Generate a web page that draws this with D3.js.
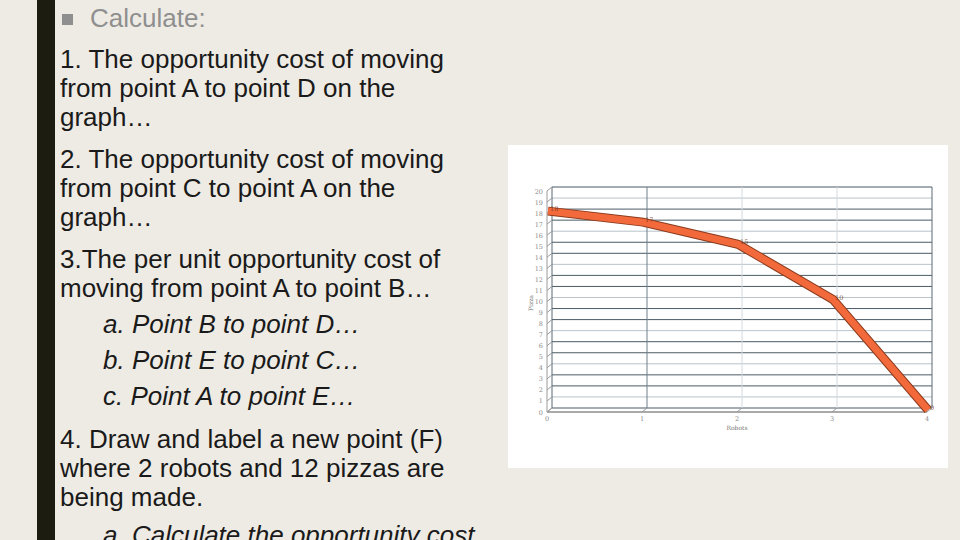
<!DOCTYPE html>
<html>
<head>
<meta charset="utf-8">
<script src="https://cdn.jsdelivr.net/npm/d3@7"></script>
<style>
  html, body { margin: 0; padding: 0; background: #eeebe4; }
  svg { display: block; }
</style>
</head>
<body>
<div id="slide"></div>
<script>
// chart values
const robots = [0, 1, 2, 3, 4];
const pizzas = [18, 17, 15, 10, 0];
const yTicks = d3.range(0, 21);
const xTicks = [0, 1, 2, 3, 4];
const xTitle = 'Robots';
const yTitle = 'Pizza';

// slide text
const heading = 'Calculate:';
const lines = [
  {t: '1. The opportunity cost of moving', y: 68},
  {t: 'from point A to point D on the', y: 97},
  {t: 'graph…', y: 126},
  {t: '2. The opportunity cost of moving', y: 168},
  {t: 'from point C to point A on the', y: 197},
  {t: 'graph…', y: 226},
  {t: '3.The per unit opportunity cost of', y: 268},
  {t: 'moving from point A to point B…', y: 297},
  {t: 'a. Point B to point D…', y: 333, it: true},
  {t: 'b. Point E to point C…', y: 369, it: true},
  {t: 'c. Point A to point E…', y: 405, it: true},
  {t: '4. Draw and label a new point (F)', y: 448},
  {t: 'where 2 robots and 12 pizzas are', y: 477},
  {t: 'being made.', y: 506},
  {t: 'a. Calculate the opportunity cost', y: 544, it: true}
];

const width = 960;
const height = 540;

const svg = d3.select('#slide')
  .append('svg')
  .attr('width', width)
  .attr('height', height);

svg.append('rect')
  .attr('width', width).attr('height', height)
  .attr('fill', '#eeebe4');

// dark bar on the left
svg.append('rect')
  .attr('x', 37).attr('y', 0)
  .attr('width', 18).attr('height', height)
  .attr('fill', '#1c1c10');

// bullet + heading
svg.append('rect')
  .attr('x', 62).attr('y', 14)
  .attr('width', 11).attr('height', 11)
  .attr('fill', '#8f8f8f');
svg.append('text')
  .attr('x', 90).attr('y', 27)
  .attr('font-family', 'Liberation Sans, Arial, sans-serif')
  .attr('font-size', 26)
  .attr('fill', '#8f8f8f')
  .text(heading);

svg.append('g')
  .attr('font-family', 'Liberation Sans, Arial, sans-serif')
  .attr('font-size', 26)
  .attr('fill', '#1a1a1a')
  .selectAll('text')
  .data(lines)
  .join('text')
    .attr('x', d => d.it ? 103 : 60)
    .attr('y', d => d.y)
    .attr('font-style', d => d.it ? 'italic' : 'normal')
    .text(d => d.t);

// chart panel
svg.append('rect')
  .attr('x', 508).attr('y', 145)
  .attr('width', 440).attr('height', 323)
  .attr('fill', '#ffffff');

// back wall scales, front plane is shifted by depth
const x = d3.scaleLinear().domain([0, 4]).range([552, 932]);
const y = d3.scaleLinear().domain([0, 20]).range([408, 187]);
const dx = -5, dy = 4;

const chart = svg.append('g');

// horizontal gridlines
chart.append('g')
  .selectAll('line')
  .data(yTicks)
  .join('line')
    .attr('x1', x(0)).attr('x2', x(4))
    .attr('y1', d => y(d)).attr('y2', d => y(d))
    .attr('stroke', d => d % 3 === 1 ? '#b9c3ca' : '#4b5b66')
    .attr('stroke-width', 1);

// vertical gridlines
chart.append('g')
  .selectAll('line')
  .data(xTicks.slice(1, -1))
  .join('line')
    .attr('x1', d => x(d)).attr('x2', d => x(d))
    .attr('y1', y(20)).attr('y2', y(0))
    .attr('stroke', d => d === 1 ? '#6f808b' : '#d3dae0')
    .attr('stroke-width', 1);

// wall edges
chart.append('line')
  .attr('x1', x(0)).attr('x2', x(0)).attr('y1', y(20)).attr('y2', y(0))
  .attr('stroke', '#5a6a74');
chart.append('line')
  .attr('x1', x(4)).attr('x2', x(4)).attr('y1', y(20)).attr('y2', y(0))
  .attr('stroke', '#5a6a74');

// front y axis with depth ticks
chart.append('line')
  .attr('x1', x(0) + dx).attr('x2', x(0) + dx)
  .attr('y1', y(20) + dy).attr('y2', y(0) + dy)
  .attr('stroke', '#9a9a9a');
chart.append('g')
  .selectAll('line')
  .data(yTicks)
  .join('line')
    .attr('x1', x(0) + dx).attr('y1', d => y(d) + dy)
    .attr('x2', x(0)).attr('y2', d => y(d))
    .attr('stroke', '#9a9a9a');

// floor
chart.append('line')
  .attr('x1', x(0) + dx).attr('x2', x(4) + dx)
  .attr('y1', y(0) + dy).attr('y2', y(0) + dy)
  .attr('stroke', '#555555');
chart.append('g')
  .selectAll('line')
  .data(xTicks)
  .join('line')
    .attr('x1', d => x(d) + dx).attr('y1', y(0) + dy)
    .attr('x2', d => x(d)).attr('y2', y(0))
    .attr('stroke', '#9a9a9a');

// tick labels
chart.append('g')
  .attr('font-family', 'DejaVu Serif, serif')
  .attr('font-size', 6.5)
  .attr('fill', '#8a8a8a')
  .attr('text-anchor', 'end')
  .selectAll('text')
  .data(yTicks)
  .join('text')
    .attr('x', x(0) + dx - 4)
    .attr('y', d => y(d) + dy + 2.5)
    .text(d => d);

chart.append('g')
  .attr('font-family', 'DejaVu Serif, serif')
  .attr('font-size', 6.5)
  .attr('fill', '#8a8a8a')
  .attr('text-anchor', 'middle')
  .selectAll('text')
  .data(xTicks)
  .join('text')
    .attr('x', d => x(d) + dx)
    .attr('y', y(0) + dy + 9)
    .text(d => d);

chart.append('text')
  .attr('x', x(2) + dx)
  .attr('y', y(0) + dy + 18)
  .attr('font-family', 'DejaVu Serif, serif')
  .attr('font-size', 6)
  .attr('fill', '#777777')
  .attr('text-anchor', 'middle')
  .text(xTitle);

chart.append('text')
  .attr('transform', `translate(${x(0) - 19},${y(9.5)}) rotate(-90)`)
  .attr('font-family', 'DejaVu Serif, serif')
  .attr('font-size', 6)
  .attr('fill', '#777777')
  .attr('text-anchor', 'middle')
  .text(yTitle);

// the frontier line
const pts = robots.map((r, i) => ({r: r, p: pizzas[i]}));
const line = d3.line()
  .x(d => x(d.r) - 4)
  .y(d => y(d.p) + 2);

chart.append('path')
  .datum(pts)
  .attr('d', line)
  .attr('fill', 'none')
  .attr('stroke', '#8c3a1c')
  .attr('stroke-width', 9)
  .attr('stroke-linejoin', 'miter');
chart.append('path')
  .datum(pts)
  .attr('d', line)
  .attr('fill', 'none')
  .attr('stroke', '#f26a3b')
  .attr('stroke-width', 7)
  .attr('stroke-linejoin', 'miter');

// small value labels on the points
chart.append('g')
  .attr('font-family', 'DejaVu Serif, serif')
  .attr('font-size', 6.5)
  .attr('fill', '#6a3018')
  .attr('fill-opacity', 0.8)
  .selectAll('text')
  .data(pts)
  .join('text')
    .attr('x', d => x(d.r) - 2)
    .attr('y', d => y(d.p) + 2)
    .text(d => d.p);
</script>
</body>
</html>
